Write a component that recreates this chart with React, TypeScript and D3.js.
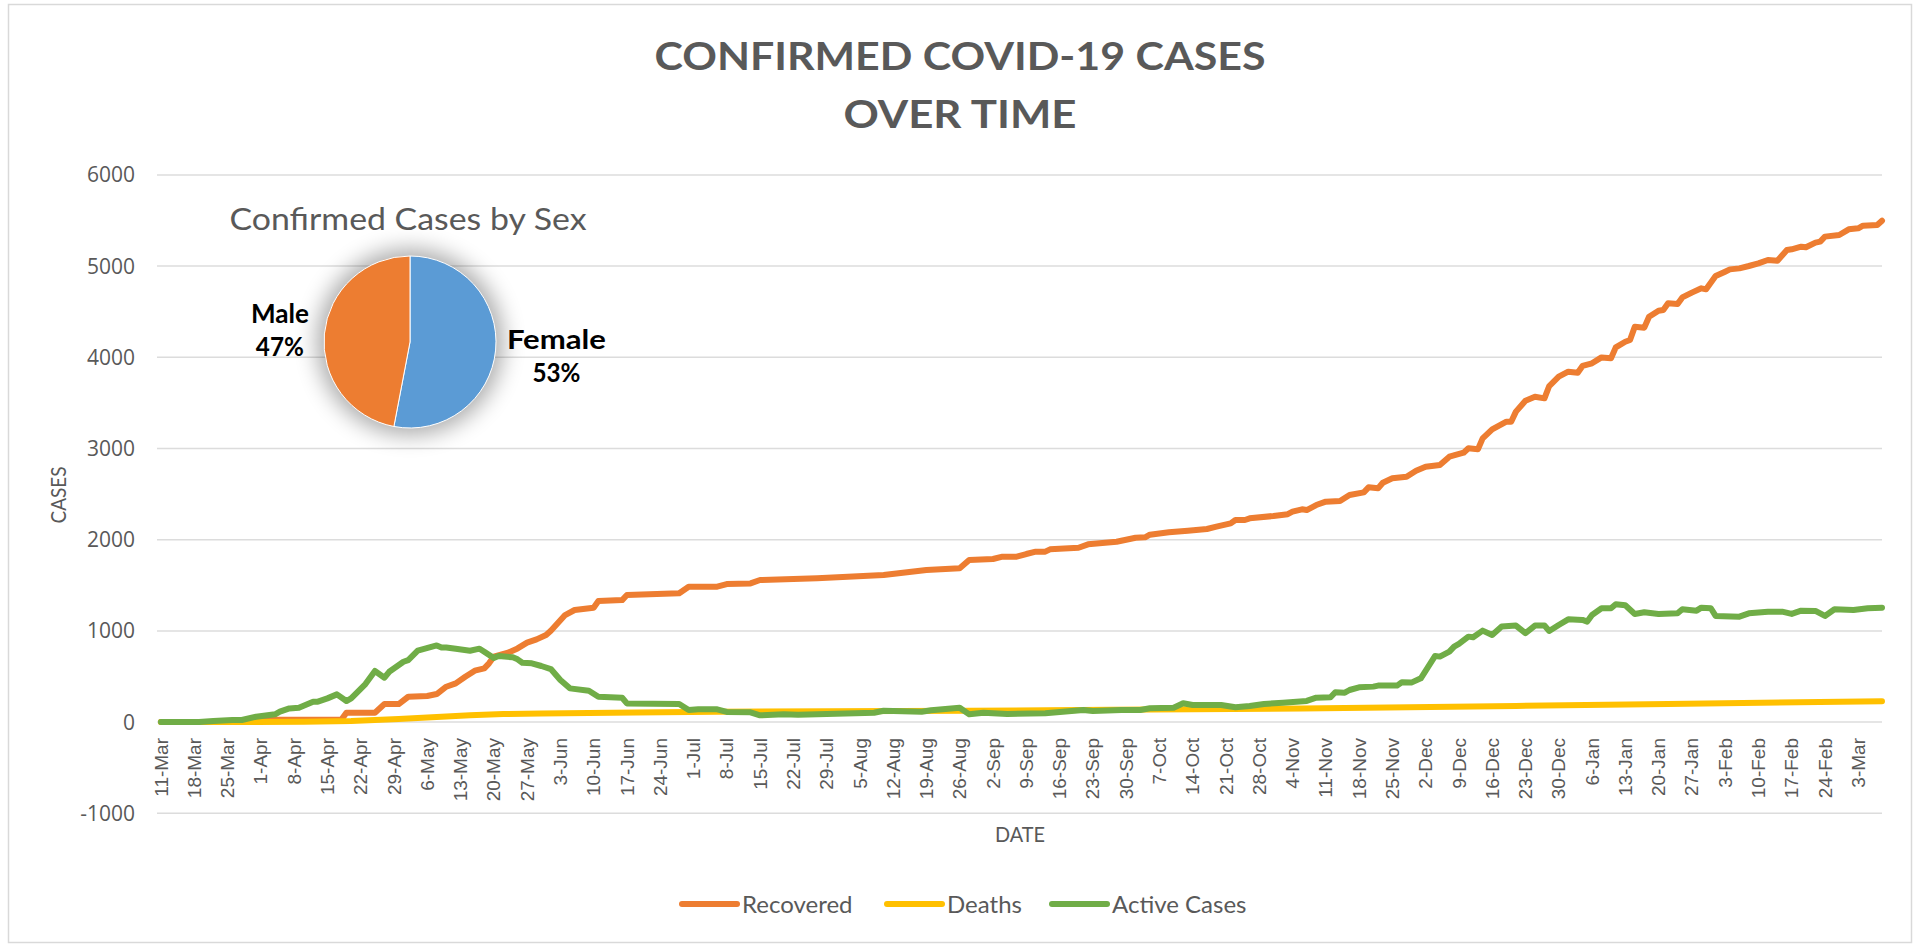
import React from 'react';
import * as d3 from 'd3';

// Category labels on the date axis (one every 7 days, starting 11-Mar-2020)
const xTickLabels = [
  '11-Mar', '18-Mar', '25-Mar', '1-Apr', '8-Apr', '15-Apr', '22-Apr', '29-Apr', '6-May', '13-May',
  '20-May', '27-May', '3-Jun', '10-Jun', '17-Jun', '24-Jun', '1-Jul', '8-Jul', '15-Jul', '22-Jul',
  '29-Jul', '5-Aug', '12-Aug', '19-Aug', '26-Aug', '2-Sep', '9-Sep', '16-Sep', '23-Sep', '30-Sep',
  '7-Oct', '14-Oct', '21-Oct', '28-Oct', '4-Nov', '11-Nov', '18-Nov', '25-Nov', '2-Dec', '9-Dec',
  '16-Dec', '23-Dec', '30-Dec', '6-Jan', '13-Jan', '20-Jan', '27-Jan', '3-Feb', '10-Feb', '17-Feb',
  '24-Feb', '3-Mar',
];
const lastDay = 362; // 8-Mar-2021, days since 11-Mar-2020
const yTicks = [-1000, 0, 1000, 2000, 3000, 4000, 5000, 6000];

// [day since 11-Mar-2020, cases]
const recovered: [number, number][] = [
  [0, 0], [19, 0], [20, 25], [37, 25], [38, 30], [39, 103], [45, 103], [47, 198], [50, 198], [52, 278],
  [56, 286], [58, 308], [60, 388], [62, 425], [64, 498], [66, 564], [68, 589], [69, 644], [70, 717],
  [73, 761], [75, 808], [77, 871], [79, 907], [81, 955], [82, 1002], [85, 1174], [87, 1229], [91, 1254],
  [92, 1327], [97, 1338], [98, 1393], [109, 1412], [111, 1485], [117, 1485], [119, 1514], [124, 1521],
  [126, 1558], [138, 1576], [152, 1613], [161, 1668], [168, 1686], [170, 1777], [175, 1788], [177, 1814],
  [180, 1814], [182, 1843], [184, 1869], [186, 1869], [187, 1894], [193, 1912], [195, 1949], [201, 1978],
  [205, 2022], [207, 2026], [208, 2055], [212, 2081], [216, 2099], [220, 2117], [222, 2143], [225, 2179],
  [226, 2216], [228, 2216], [229, 2234], [234, 2260], [237, 2280], [238, 2307], [240, 2333], [241, 2325],
  [243, 2380], [245, 2417], [248, 2424], [250, 2490], [253, 2519], [254, 2574], [256, 2563], [257, 2625],
  [259, 2673], [262, 2691], [264, 2757], [266, 2801], [269, 2819], [271, 2910], [274, 2954], [275, 3002],
  [277, 2991], [278, 3111], [280, 3210], [283, 3294], [284, 3294], [285, 3404], [287, 3524], [289, 3568],
  [291, 3550], [292, 3685], [294, 3788], [296, 3842], [298, 3831], [299, 3905], [301, 3934], [303, 3999],
  [305, 3989], [306, 4109], [308, 4171], [309, 4190], [310, 4336], [312, 4325], [313, 4445], [315, 4511],
  [316, 4519], [317, 4592], [319, 4584], [320, 4657], [322, 4709], [324, 4756], [325, 4745], [327, 4891],
  [329, 4939], [330, 4964], [332, 4975], [334, 5001], [336, 5030], [338, 5067], [340, 5059], [342, 5176],
  [343, 5184], [345, 5213], [346, 5206], [348, 5257], [349, 5268], [350, 5323], [353, 5341], [355, 5403],
  [357, 5414], [358, 5443], [361, 5450], [362, 5498],
];

const deaths: [number, number][] = [
  [0, 0], [20, 0], [30, 3], [40, 12], [50, 35], [58, 55], [65, 75], [72, 89], [80, 95], [100, 105],
  [117, 113], [170, 125], [200, 135], [240, 150], [285, 177], [317, 199], [362, 228],
];

const active: [number, number][] = [
  [0, 0], [8, 0], [11, 12], [15, 23], [17, 23], [20, 59], [24, 85], [25, 114], [27, 150], [29, 158],
  [32, 224], [33, 224], [35, 260], [37, 304], [39, 231], [40, 260], [43, 417], [45, 560], [47, 487],
  [48, 552], [51, 662], [52, 680], [54, 783], [58, 841], [59, 819], [60, 819], [62, 805], [65, 783],
  [67, 805], [68, 772], [70, 702], [71, 724], [74, 710], [75, 688], [76, 651], [78, 644], [80, 615],
  [82, 582], [84, 461], [86, 370], [90, 344], [92, 278], [97, 267], [98, 205], [109, 198], [111, 132],
  [113, 140], [117, 140], [119, 111], [124, 107], [126, 74], [131, 85], [134, 81], [150, 103], [152, 125],
  [160, 114], [162, 129], [168, 158], [170, 85], [173, 103], [178, 89], [186, 96], [194, 133], [196, 122],
  [202, 133], [206, 133], [208, 151], [213, 158], [215, 206], [217, 187], [223, 187], [226, 162],
  [229, 176], [232, 198], [236, 213], [241, 232], [243, 268], [246, 272], [247, 327], [249, 323],
  [250, 352], [252, 382], [255, 389], [256, 400], [260, 400], [261, 436], [263, 433], [265, 480],
  [266, 561], [268, 725], [269, 718], [271, 773], [272, 828], [273, 857], [275, 937], [276, 930],
  [278, 1003], [280, 955], [282, 1047], [285, 1058], [287, 974], [289, 1058], [291, 1058], [292, 999],
  [294, 1065], [296, 1127], [299, 1120], [300, 1102], [301, 1175], [303, 1248], [305, 1248], [306, 1292],
  [308, 1281], [310, 1186], [312, 1204], [315, 1186], [319, 1193], [320, 1237], [323, 1222], [324, 1255],
  [326, 1248], [327, 1164], [332, 1156], [334, 1193], [338, 1211], [341, 1211], [343, 1186], [345, 1222],
  [348, 1219], [350, 1164], [352, 1237], [356, 1229], [359, 1248], [362, 1255],
];

const seriesNames = ['Recovered', 'Deaths', 'Active Cases'];
const seriesColors = ['#ED7D31', '#FFC000', '#70AD47'];

const sexLabels = ['Female', 'Male'];
const sexShares = [53, 47];
const sexColors = ['#5B9BD5', '#ED7D31'];

const W = 1917;
const H = 945;
const TEXT = '#595959';
const CAL = 'Lato, "Open Sans", sans-serif';

export default function App() {
  const x = d3.scaleLinear().domain([0, lastDay]).range([161, 1882]);
  const y = d3.scaleLinear().domain([-1000, 6000]).range([813.3, 174.9]);
  const line = d3.line<[number, number]>().x(d => x(d[0])).y(d => y(d[1]));
  const series = [recovered, deaths, active];

  const pieCx = 410;
  const pieCy = 342;
  const R = 86;
  const arcs = d3.pie<number>().sort(null).startAngle(0)(sexShares);
  const arcGen = d3.arc<d3.PieArcDatum<number>>().innerRadius(0).outerRadius(R);
  const labelFactors = [1.71, 1.52];
  const nameWidths = [99, 58];
  const pctWidths = [48, 48];

  const legendX = [682, 887, 1052];

  return (
    <svg width={W} height={H} style={{ position: 'absolute', left: 0, top: 0, background: '#fff' }}>
      <defs>
        <filter id="pieShadow" x="-50%" y="-50%" width="200%" height="200%">
          <feGaussianBlur stdDeviation="11" />
        </filter>
      </defs>
      <rect x={0} y={0} width={W} height={H} fill="#fff" />
      <rect x={8.5} y={4.5} width={1903} height={938} fill="none" stroke="#d9d9d9" strokeWidth={1.5} />

      {/* Title */}
      <text x={960} y={70} textAnchor="middle" fontFamily={CAL} fontWeight={700} fontSize={39}
        fill={TEXT} textLength={611} lengthAdjust="spacingAndGlyphs">CONFIRMED COVID-19 CASES</text>
      <text x={960} y={128} textAnchor="middle" fontFamily={CAL} fontWeight={700} fontSize={39}
        fill={TEXT} textLength={233} lengthAdjust="spacingAndGlyphs">OVER TIME</text>

      {/* Gridlines */}
      {yTicks.map(t => (
        <line key={t} x1={157} x2={1882} y1={y(t)} y2={y(t)} stroke="#dcdcdc" strokeWidth={1.5} />
      ))}
      {/* Y tick labels */}
      {yTicks.map(t => (
        <text key={'l' + t} x={135} y={y(t)} dy="0.36em" textAnchor="end" fontFamily='"Open Sans", sans-serif'
          fontSize={21} fill={TEXT}>{t}</text>
      ))}
      {/* Axis titles */}
      <text transform={`translate(66,495) rotate(-90)`} textAnchor="middle" fontFamily={CAL} fontSize={21}
        fill={TEXT} textLength={57} lengthAdjust="spacingAndGlyphs">CASES</text>
      <text x={1020} y={842} textAnchor="middle" fontFamily={CAL} fontSize={21} fill={TEXT}
        textLength={50} lengthAdjust="spacingAndGlyphs">DATE</text>

      {/* X tick labels */}
      {xTickLabels.map((lab, i) => (
        <text key={lab} transform={`translate(${x(i * 7)},738) rotate(-90)`} dy="0.35em" textAnchor="end"
          fontFamily='"Liberation Sans", Arial, sans-serif' fontSize={19} fill={TEXT}>{lab}</text>
      ))}

      {/* Lines */}
      {series.map((s, i) => (
        <path key={seriesNames[i]} d={line(s) || ''} fill="none" stroke={seriesColors[i]} strokeWidth={6}
          strokeLinejoin="round" strokeLinecap="round" />
      ))}

      {/* Pie */}
      <text x={408} y={230} textAnchor="middle" fontFamily={CAL} fontSize={30} fill={TEXT}
        textLength={357} lengthAdjust="spacingAndGlyphs">Confirmed Cases by Sex</text>
      <circle cx={pieCx} cy={pieCy} r={R + 7} fill="#000" opacity={0.33} filter="url(#pieShadow)" />
      <g transform={`translate(${pieCx},${pieCy})`}>
        {arcs.map((a, i) => (
          <path key={sexLabels[i]} d={arcGen(a) || ''} fill={sexColors[i]} stroke="#fff" strokeWidth={1} />
        ))}
        {arcs.map((a, i) => {
          const lr = R * labelFactors[i];
          const c = d3.arc<d3.PieArcDatum<number>>().innerRadius(lr).outerRadius(lr).centroid(a);
          return (
            <g key={'t' + i} fontFamily={CAL} fontWeight={700} fontSize={26} fill="#000" textAnchor="middle">
              <text x={c[0]} y={c[1] - 7} textLength={nameWidths[i]} lengthAdjust="spacingAndGlyphs">{sexLabels[i]}</text>
              <text x={c[0]} y={c[1] + 26} textLength={pctWidths[i]} lengthAdjust="spacingAndGlyphs">{sexShares[i]}%</text>
            </g>
          );
        })}
      </g>

      {/* Legend */}
      {seriesNames.map((n, i) => (
        <g key={'lg' + n}>
          <line x1={legendX[i]} x2={legendX[i] + 55} y1={904} y2={904} stroke={seriesColors[i]} strokeWidth={6}
            strokeLinecap="round" />
          <text x={legendX[i] + 60} y={912.5} fontFamily={CAL} fontSize={24} fill={TEXT}>{n}</text>
        </g>
      ))}
    </svg>
  );
}
